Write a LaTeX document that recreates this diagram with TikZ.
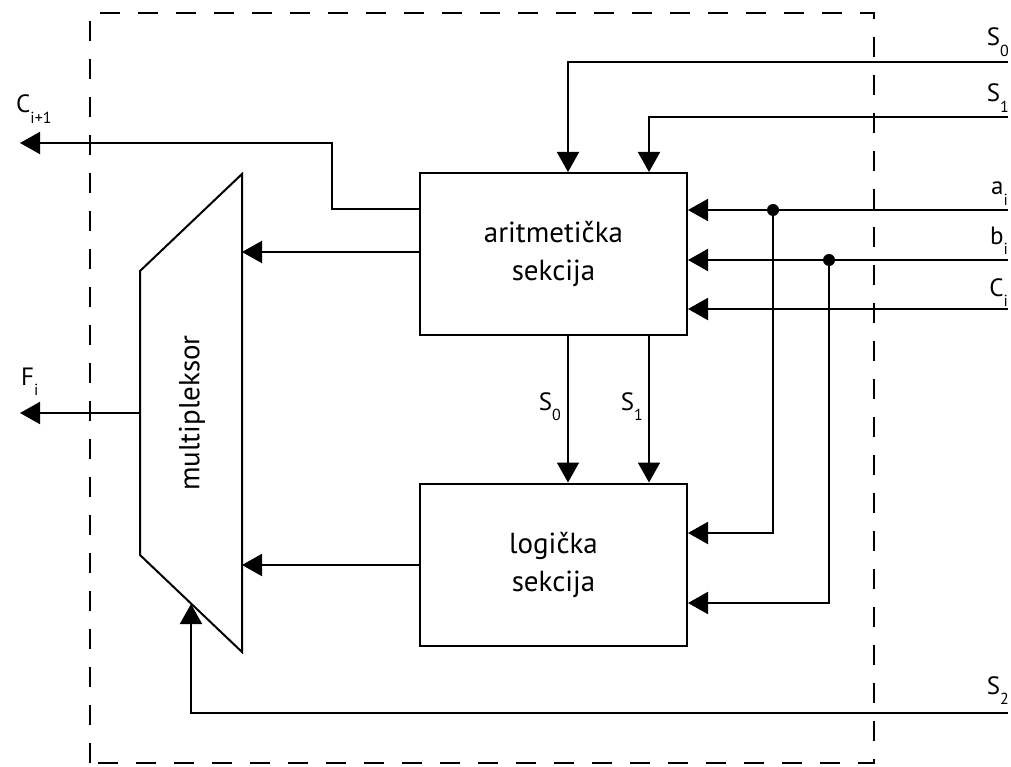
\documentclass[tikz,border=0pt]{standalone}
\usepackage{fontspec}
\setmainfont{PT Sans}
\usetikzlibrary{arrows.meta}
\newcommand{\sub}[2]{#1\raisebox{-0.42em}{\fontsize{16}{16}\selectfont #2}}
\begin{document}
\begin{tikzpicture}[x=1pt,y=-1pt,
  wire/.style={line width=2pt},
  arr/.style={wire,-{Triangle[length=20pt,width=22pt]}},
  blk/.style={draw,line width=2pt,minimum width=267pt,minimum height=162pt,inner sep=0pt,align=center,font=\fontsize{29}{38}\selectfont},
  lbl/.style={font=\fontsize{25}{25}\selectfont,inner sep=0pt},
  dot/.style={circle,fill=black,inner sep=0pt,minimum size=12pt}]
\useasboundingbox (0,0) rectangle (1011,767);
% dashed frame
\draw[line width=2pt,dash pattern=on 20pt off 18pt] (90,763) -- (90,13) -- (874,13) -- (874,763) -- cycle;
% blocks
\node[blk] (ar) at (553.5,254) {aritmetička\\sekcija};
\node[blk] (lo) at (553.5,564.5) {logička\\sekcija};
% multiplexer
\coordinate (m1) at (140,271);
\coordinate (m2) at (242,174);
\coordinate (m3) at (242,652);
\coordinate (m4) at (140,555);
\draw[wire,line join=miter] (m1) -- (m2) -- (m3) -- (m4) -- cycle;
\node[font=\fontsize{29}{29}\selectfont,inner sep=0pt,rotate=90] (mx) at (192,413) {multipleksor};
% inputs coords
\coordinate (s0r) at (1008,62);
\coordinate (s1r) at (1008,117);
\coordinate (ar_r) at (1008,210);
\coordinate (br) at (1008,260);
\coordinate (cr) at (1008,309);
\coordinate (s2r) at (1008,713);
\coordinate (cout) at (20,143);
\coordinate (fout) at (20,413);
% S0, S1 into arith
\draw[arr] (s0r) -| (ar.north -| 568,0);
\draw[arr] (s1r) -| (ar.north -| 649,0);
% a, b, c
\draw[arr] (ar_r) -- (ar.east |- ar_r);
\draw[arr] (br) -- (ar.east |- br);
\draw[arr] (cr) -- (ar.east |- cr);
\node[dot] (da) at (773,210) {};
\node[dot] (db) at (829,260) {};
\draw[arr] (da.center) |- (lo.east |- 0,533);
\draw[arr] (db.center) |- (lo.east |- 0,603);
% S0, S1 between blocks
\draw[arr] (ar.south -| 568,0) -- (lo.north -| 568,0);
\draw[arr] (ar.south -| 649,0) -- (lo.north -| 649,0);
% outputs to mux
\draw[arr] (ar.west |- 0,252) -- (242,252);
\draw[arr] (lo.west |- 0,565) -- (242,565);
% carry out
\draw[arr] (ar.west |- 0,209) -- (332,209) |- (cout);
% F out
\draw[arr] (140,413) -- (fout);
% S2
\draw[arr] (s2r) -| (191,604);
% labels
\node[lbl,anchor=base west] at (16,113) {\sub{C}{i+1}};
\node[lbl,anchor=base west] at (21,385) {\sub{F}{i}};
\node[lbl,anchor=base east] at (1009,46) {\sub{S}{0}};
\node[lbl,anchor=base east] at (1009,102) {\sub{S}{1}};
\node[lbl,anchor=base east] at (1008,195) {\sub{a}{i}};
\node[lbl,anchor=base east] at (1008,244) {\sub{b}{i}};
\node[lbl,anchor=base east] at (1008,296) {\sub{C}{i}};
\node[lbl,anchor=base east] at (1009,694) {\sub{S}{2}};
\node[lbl,anchor=base east] at (561,410) {\sub{S}{0}};
\node[lbl,anchor=base east] at (643,410) {\sub{S}{1}};
\end{tikzpicture}
\end{document}
